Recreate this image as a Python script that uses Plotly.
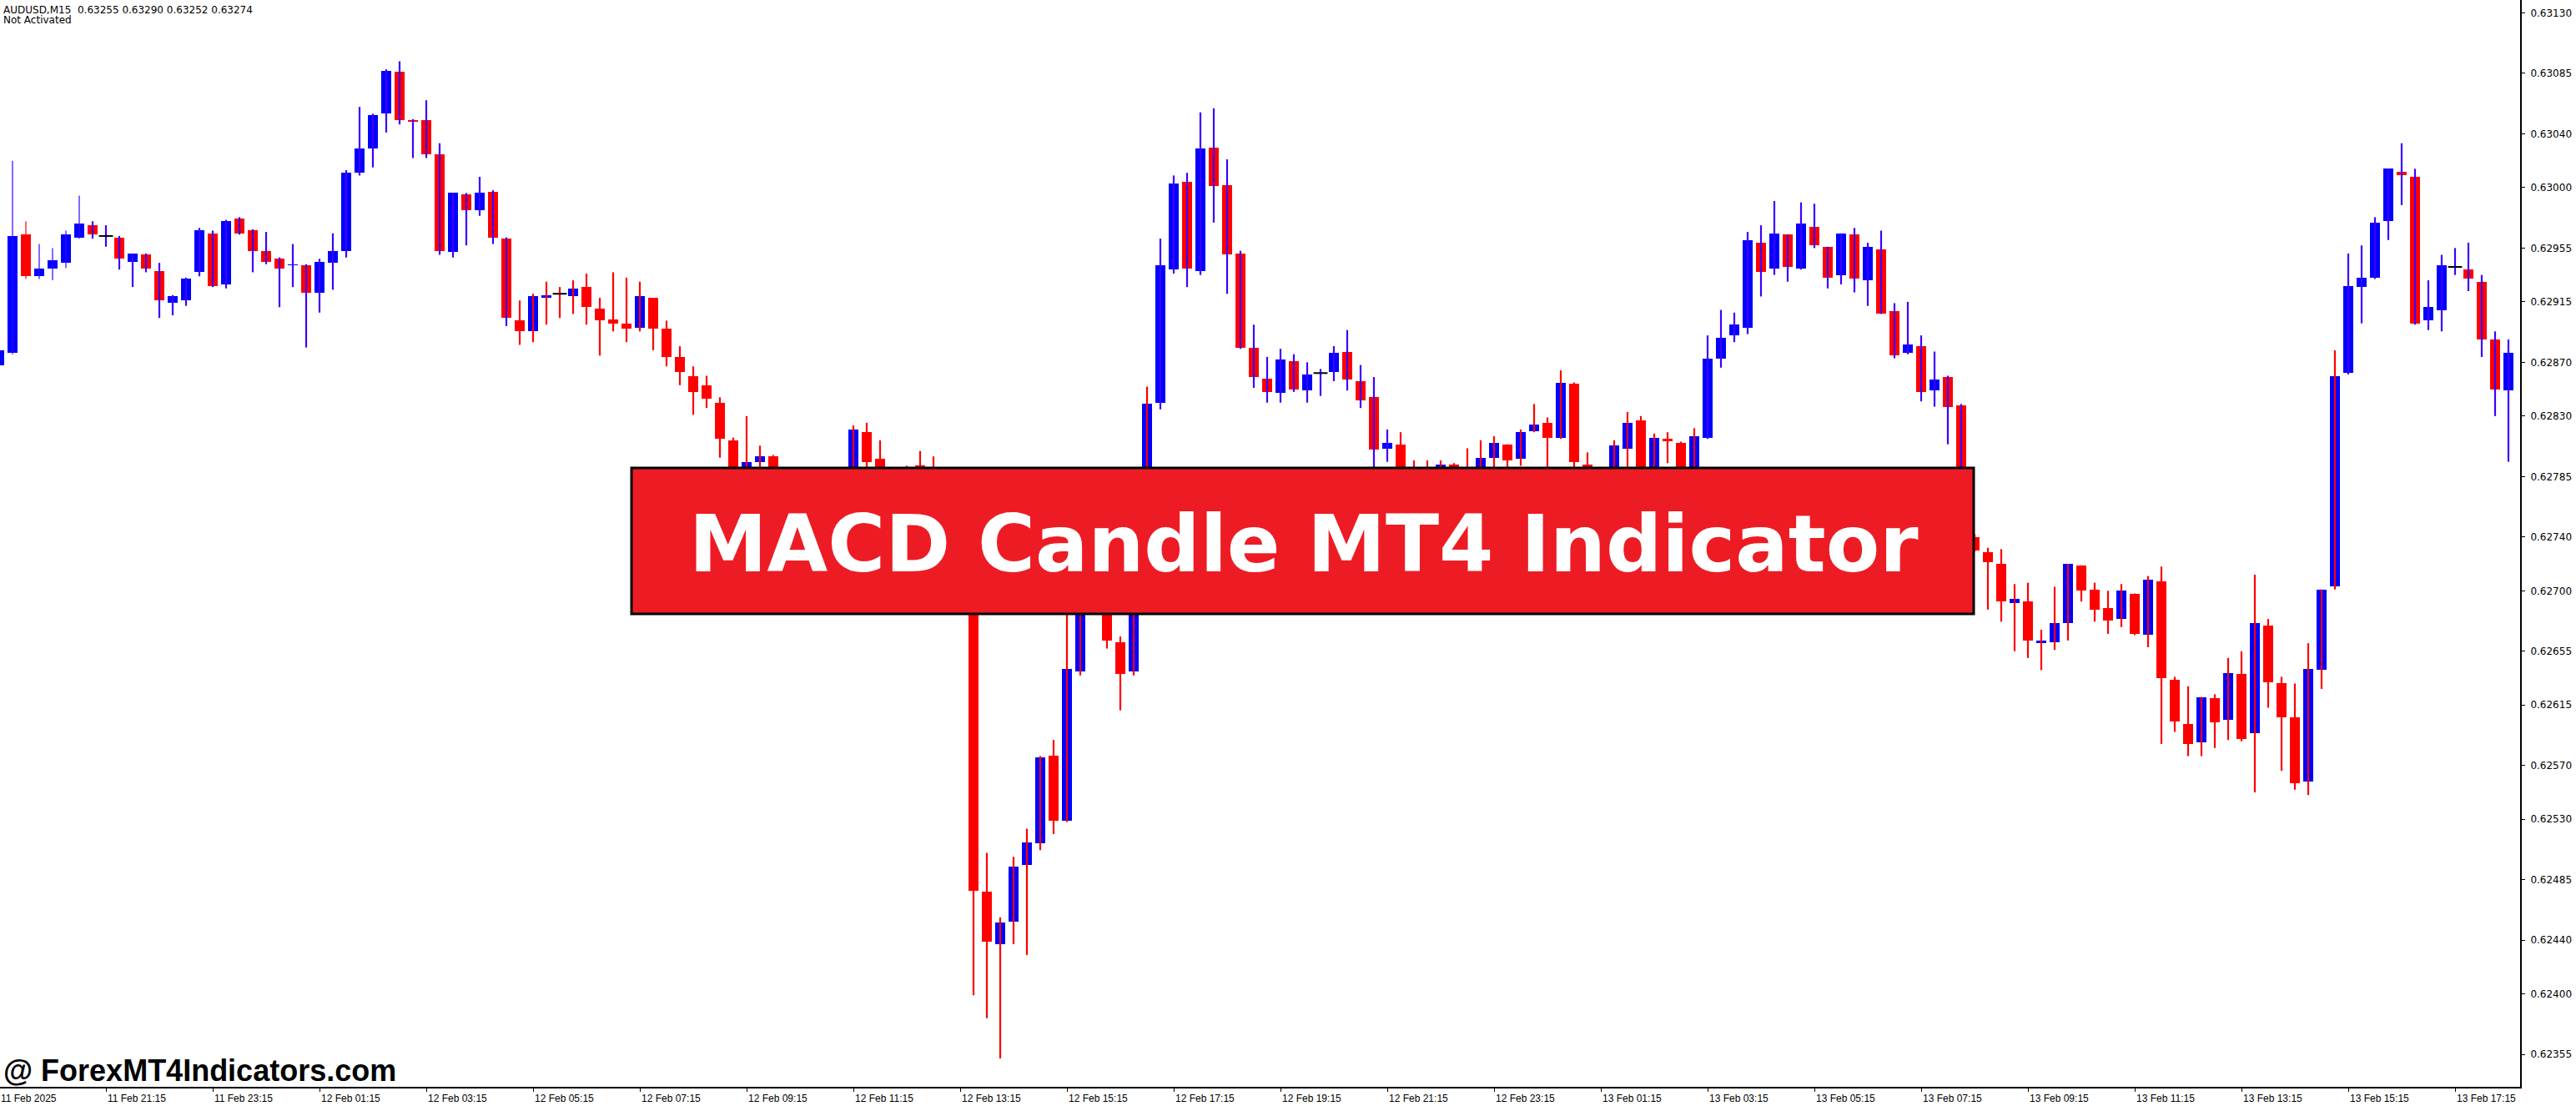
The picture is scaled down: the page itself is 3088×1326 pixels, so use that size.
import plotly.graph_objects as go

# ---------------- data (AUDUSD M15) ----------------
x_tick_labels = ["11 Feb 2025", "11 Feb 21:15", "11 Feb 23:15", "12 Feb 01:15", "12 Feb 03:15",
                 "12 Feb 05:15", "12 Feb 07:15", "12 Feb 09:15", "12 Feb 11:15", "12 Feb 13:15",
                 "12 Feb 15:15", "12 Feb 17:15", "12 Feb 19:15", "12 Feb 21:15", "12 Feb 23:15",
                 "13 Feb 01:15", "13 Feb 03:15", "13 Feb 05:15", "13 Feb 07:15", "13 Feb 09:15",
                 "13 Feb 11:15", "13 Feb 13:15", "13 Feb 15:15", "13 Feb 17:15"]
x_tick_index = list(range(0, 185, 8))

y_tick_labels = ["0.63130", "0.63085", "0.63040", "0.63000", "0.62955", "0.62915", "0.62870",
                 "0.62830", "0.62785", "0.62740", "0.62700", "0.62655", "0.62615", "0.62570",
                 "0.62530", "0.62485", "0.62440", "0.62400", "0.62355"]

opens = [0.62868, 0.62877, 0.62965, 0.62934, 0.62940, 0.62944, 0.62963, 0.62972, 0.62964, 0.62963,
         0.62945, 0.62950, 0.62938, 0.62914, 0.62916, 0.62937, 0.62966, 0.62928, 0.62977, 0.62968,
         0.62953, 0.62947, 0.62942, 0.62942, 0.62922, 0.62944, 0.62953, 0.63011, 0.63029, 0.63055,
         0.63086, 0.63050, 0.63050, 0.63025, 0.62952, 0.62995, 0.62983, 0.62997, 0.62962, 0.62901,
         0.62893, 0.62918, 0.62921, 0.62919, 0.62926, 0.62910, 0.62902, 0.62899, 0.62896, 0.62918,
         0.62895, 0.62874, 0.62860, 0.62853, 0.62840, 0.62812, 0.62780, 0.62796, 0.62800, 0.62767,
         0.62742, 0.62718, 0.62736, 0.62767, 0.62786, 0.62818, 0.62798, 0.62773, 0.62767, 0.62793,
         0.62773, 0.62755, 0.62742, 0.62736, 0.62476, 0.62437, 0.62454, 0.62496, 0.62512, 0.62577,
         0.62529, 0.62640, 0.62702, 0.62711, 0.62662, 0.62640, 0.62693, 0.62840, 0.62939, 0.63004,
         0.62938, 0.63030, 0.63002, 0.62951, 0.62881, 0.62858, 0.62847, 0.62871, 0.62849, 0.62862,
         0.62863, 0.62878, 0.62856, 0.62844, 0.62806, 0.62809, 0.62780, 0.62773, 0.62786, 0.62794,
         0.62783, 0.62780, 0.62799, 0.62809, 0.62798, 0.62819, 0.62825, 0.62814, 0.62854, 0.62794,
         0.62789, 0.62783, 0.62806, 0.62827, 0.62773, 0.62813, 0.62810, 0.62783, 0.62814, 0.62873,
         0.62890, 0.62896, 0.62959, 0.62940, 0.62965, 0.62940, 0.62971, 0.62956, 0.62935, 0.62965,
         0.62931, 0.62954, 0.62908, 0.62877, 0.62882, 0.62849, 0.62859, 0.62838, 0.62740, 0.62729,
         0.62720, 0.62691, 0.62692, 0.62661, 0.62662, 0.62676, 0.62719, 0.62701, 0.62687, 0.62679,
         0.62698, 0.62667, 0.62707, 0.62634, 0.62601, 0.62587, 0.62620, 0.62604, 0.62638, 0.62594,
         0.62674, 0.62631, 0.62606, 0.62558, 0.62641, 0.62703, 0.62862, 0.62926, 0.62933, 0.62975,
         0.63012, 0.63008, 0.62901, 0.62909, 0.62941, 0.62939, 0.62930, 0.62887, 0.62849]

highs = [0.62880, 0.63020, 0.62975, 0.62958, 0.62955, 0.62968, 0.62994, 0.62975, 0.62972, 0.62964,
         0.62951, 0.62951, 0.62944, 0.62920, 0.62933, 0.62970, 0.62968, 0.62976, 0.62978, 0.62969,
         0.62967, 0.62948, 0.62958, 0.62943, 0.62947, 0.62966, 0.63013, 0.63060, 0.63055, 0.63088,
         0.63094, 0.63051, 0.63065, 0.63033, 0.62996, 0.62996, 0.63008, 0.62998, 0.62963, 0.62916,
         0.62921, 0.62930, 0.62926, 0.62931, 0.62936, 0.62918, 0.62937, 0.62933, 0.62930, 0.62918,
         0.62901, 0.62882, 0.62867, 0.62860, 0.62844, 0.62814, 0.62830, 0.62808, 0.62801, 0.62773,
         0.62749, 0.62742, 0.62773, 0.62789, 0.62823, 0.62825, 0.62812, 0.62789, 0.62793, 0.62804,
         0.62800, 0.62767, 0.62755, 0.62742, 0.62505, 0.62457, 0.62502, 0.62523, 0.62577, 0.62589,
         0.62687, 0.62711, 0.62736, 0.62718, 0.62666, 0.62699, 0.62852, 0.62962, 0.63009, 0.63011,
         0.63056, 0.63059, 0.63021, 0.62953, 0.62898, 0.62874, 0.62880, 0.62876, 0.62870, 0.62865,
         0.62882, 0.62894, 0.62868, 0.62859, 0.62820, 0.62818, 0.62797, 0.62797, 0.62797, 0.62795,
         0.62806, 0.62812, 0.62815, 0.62809, 0.62820, 0.62839, 0.62829, 0.62864, 0.62855, 0.62803,
         0.62791, 0.62812, 0.62833, 0.62830, 0.62817, 0.62818, 0.62811, 0.62821, 0.62890, 0.62909,
         0.62907, 0.62967, 0.62972, 0.62990, 0.62965, 0.62989, 0.62988, 0.62956, 0.62966, 0.62970,
         0.62959, 0.62968, 0.62914, 0.62915, 0.62890, 0.62878, 0.62860, 0.62839, 0.62742, 0.62732,
         0.62731, 0.62705, 0.62706, 0.62671, 0.62703, 0.62720, 0.62719, 0.62706, 0.62700, 0.62705,
         0.62698, 0.62711, 0.62718, 0.62636, 0.62629, 0.62621, 0.62623, 0.62650, 0.62655, 0.62712,
         0.62679, 0.62636, 0.62631, 0.62661, 0.62701, 0.62879, 0.62951, 0.62957, 0.62978, 0.63014,
         0.63033, 0.63014, 0.62931, 0.62950, 0.62955, 0.62959, 0.62935, 0.62893, 0.62887]

lows = [0.62867, 0.62876, 0.62932, 0.62932, 0.62931, 0.62940, 0.62962, 0.62962, 0.62956, 0.62939,
        0.62926, 0.62937, 0.62903, 0.62905, 0.62912, 0.62934, 0.62926, 0.62925, 0.62965, 0.62937,
        0.62943, 0.62911, 0.62926, 0.62881, 0.62907, 0.62924, 0.62948, 0.63009, 0.63015, 0.63041,
        0.63047, 0.63022, 0.63022, 0.62950, 0.62948, 0.62957, 0.62979, 0.62958, 0.62897, 0.62883,
        0.62885, 0.62898, 0.62903, 0.62906, 0.62898, 0.62875, 0.62893, 0.62885, 0.62893, 0.62879,
        0.62867, 0.62853, 0.62831, 0.62836, 0.62799, 0.62773, 0.62773, 0.62783, 0.62755, 0.62736,
        0.62705, 0.62711, 0.62730, 0.62761, 0.62780, 0.62783, 0.62767, 0.62755, 0.62758, 0.62764,
        0.62749, 0.62736, 0.62724, 0.62399, 0.62382, 0.62352, 0.62437, 0.62429, 0.62507, 0.62519,
        0.62528, 0.62637, 0.62690, 0.62657, 0.62611, 0.62637, 0.62687, 0.62835, 0.62936, 0.62926,
        0.62935, 0.62974, 0.62921, 0.62880, 0.62851, 0.62840, 0.62840, 0.62848, 0.62840, 0.62845,
        0.62856, 0.62849, 0.62836, 0.62791, 0.62796, 0.62773, 0.62767, 0.62764, 0.62777, 0.62773,
        0.62770, 0.62773, 0.62789, 0.62790, 0.62793, 0.62818, 0.62789, 0.62813, 0.62788, 0.62780,
        0.62773, 0.62780, 0.62789, 0.62767, 0.62767, 0.62795, 0.62777, 0.62780, 0.62813, 0.62866,
        0.62885, 0.62891, 0.62919, 0.62935, 0.62930, 0.62939, 0.62955, 0.62925, 0.62928, 0.62922,
        0.62912, 0.62906, 0.62873, 0.62876, 0.62841, 0.62837, 0.62809, 0.62736, 0.62729, 0.62686,
        0.62677, 0.62655, 0.62650, 0.62641, 0.62656, 0.62663, 0.62692, 0.62677, 0.62668, 0.62673,
        0.62667, 0.62658, 0.62586, 0.62595, 0.62577, 0.62577, 0.62583, 0.62589, 0.62588, 0.62550,
        0.62613, 0.62566, 0.62552, 0.62548, 0.62627, 0.62701, 0.62861, 0.62899, 0.62932, 0.62961,
        0.62987, 0.62898, 0.62894, 0.62893, 0.62935, 0.62923, 0.62874, 0.62830, 0.62796]

closes = [0.62879, 0.62964, 0.62934, 0.62940, 0.62946, 0.62965, 0.62973, 0.62965, 0.62964, 0.62947,
          0.62951, 0.62940, 0.62916, 0.62919, 0.62932, 0.62968, 0.62927, 0.62975, 0.62966, 0.62953,
          0.62945, 0.62940, 0.62943, 0.62922, 0.62945, 0.62953, 0.63011, 0.63029, 0.63054, 0.63087,
          0.63050, 0.63049, 0.63025, 0.62953, 0.62996, 0.62983, 0.62996, 0.62963, 0.62903, 0.62893,
          0.62919, 0.62920, 0.62921, 0.62925, 0.62911, 0.62901, 0.62899, 0.62895, 0.62919, 0.62895,
          0.62874, 0.62863, 0.62848, 0.62843, 0.62813, 0.62783, 0.62796, 0.62800, 0.62767, 0.62742,
          0.62718, 0.62736, 0.62767, 0.62786, 0.62820, 0.62796, 0.62773, 0.62767, 0.62777, 0.62773,
          0.62755, 0.62742, 0.62736, 0.62477, 0.62439, 0.62453, 0.62495, 0.62513, 0.62576, 0.62529,
          0.62642, 0.62705, 0.62711, 0.62663, 0.62638, 0.62693, 0.62839, 0.62942, 0.63003, 0.62940,
          0.63029, 0.63001, 0.62950, 0.62881, 0.62859, 0.62848, 0.62872, 0.62850, 0.62861, 0.62862,
          0.62877, 0.62857, 0.62842, 0.62805, 0.62810, 0.62783, 0.62773, 0.62777, 0.62794, 0.62783,
          0.62780, 0.62799, 0.62810, 0.62797, 0.62818, 0.62824, 0.62814, 0.62855, 0.62796, 0.62789,
          0.62783, 0.62808, 0.62825, 0.62773, 0.62814, 0.62811, 0.62783, 0.62815, 0.62873, 0.62888,
          0.62898, 0.62961, 0.62937, 0.62966, 0.62941, 0.62973, 0.62957, 0.62933, 0.62966, 0.62932,
          0.62956, 0.62906, 0.62875, 0.62883, 0.62848, 0.62857, 0.62837, 0.62740, 0.62730, 0.62721,
          0.62692, 0.62694, 0.62663, 0.62663, 0.62676, 0.62720, 0.62700, 0.62686, 0.62678, 0.62700,
          0.62668, 0.62708, 0.62635, 0.62603, 0.62586, 0.62621, 0.62602, 0.62639, 0.62590, 0.62676,
          0.62632, 0.62606, 0.62557, 0.62642, 0.62701, 0.62860, 0.62927, 0.62933, 0.62974, 0.63014,
          0.63009, 0.62899, 0.62911, 0.62942, 0.62941, 0.62932, 0.62887, 0.62850, 0.62877]

# spans of bars whose high-low line is drawn in the indicator's "up" colour (blue); the rest are red
blue_wick_runs = [(0, 1), (3, 38), (87, 104), (128, 147), (176, 188)]
first_indicator_bar = 7          # bars before this one keep the thin original wick

header_line1 = "AUDUSD,M15\u00a0\u00a00.63255 0.63290 0.63252 0.63274"
header_line2 = "Not Activated"
banner_text = "MACD Candle MT4 Indicator"
watermark_text = "@ ForexMT4Indicators.com"

# ---------------- styles ----------------
BLUE = "#0000FF"
RED = "#FF0000"
WICK_BLUE = "#3C00FF"
WICK_RED = "#FF0000"
BANNER_RED = "#ED1C24"

n = len(opens)
idx = list(range(n))
wick_up = [False] * n
for a, b in blue_wick_runs:
    for i in range(a, b + 1):
        wick_up[i] = True

body_colors = [BLUE if c > o else (RED if c < o else "black") for o, c in zip(opens, closes)]

fig = go.Figure()

# candle bodies
fig.add_trace(go.Bar(
    x=idx,
    y=[abs(c - o) for o, c in zip(opens, closes)],
    base=[min(o, c) for o, c in zip(opens, closes)],
    width=0.69,
    marker=dict(color=body_colors, line=dict(width=0)),
    hoverinfo="skip",
))


def wick_trace(sel, color, width):
    xs, ys = [], []
    for i in sel:
        xs += [i, i, None]
        ys += [lows[i], highs[i], None]
    return go.Scatter(x=xs, y=ys, mode="lines", line=dict(color=color, width=width),
                      hoverinfo="skip", connectgaps=False)


for up, col in ((True, WICK_BLUE), (False, WICK_RED)):
    thin = [i for i in idx if wick_up[i] == up and i < first_indicator_bar]
    thick = [i for i in idx if wick_up[i] == up and i >= first_indicator_bar]
    if thin:
        fig.add_trace(wick_trace(thin, col, 1.2))
    if thick:
        fig.add_trace(wick_trace(thick, col, 2.2))

# doji (open == close) drawn as a short black dash
doji = [i for i in idx if opens[i] == closes[i]]
fig.add_trace(go.Scatter(
    x=doji, y=[opens[i] for i in doji], mode="markers",
    marker=dict(symbol="line-ew", size=12, line=dict(color="black", width=2)),
    hoverinfo="skip",
))

# ---------------- layout ----------------
W, H = 3088, 1326
ML, MR, MT, MB = 0, 67, 0, 23
PW, PH = W - ML - MR, H - MT - MB
X_RANGE = [0.0625, 188.875]

fig.update_layout(
    width=W, height=H,
    margin=dict(l=ML, r=MR, t=MT, b=MB, pad=0),
    paper_bgcolor="white", plot_bgcolor="white",
    showlegend=False, barmode="overlay", bargap=0,
    hovermode=False,
)

fig.update_xaxes(
    range=X_RANGE, showgrid=False, zeroline=False,
    showline=True, linecolor="black", linewidth=2,
    ticks="outside", ticklen=4, tickwidth=1, tickcolor="black",
    tickvals=x_tick_index, showticklabels=False, automargin=False, fixedrange=True,
)
fig.update_yaxes(
    side="right", range=[0.623309, 0.631396], showgrid=False, zeroline=False,
    showline=True, linecolor="black", linewidth=2,
    ticks="outside", ticklen=4, tickwidth=1, tickcolor="black",
    tickvals=[float(t) for t in y_tick_labels], ticktext=y_tick_labels,
    tickfont=dict(family="DejaVu Sans", size=12, color="black"),
    ticklabelstandoff=4, automargin=False, fixedrange=True,
)

annotations = []
# time labels, left-aligned at their tick like MT4 (paper position from the axis range)
for ti, lab in zip(x_tick_index, x_tick_labels):
    annotations.append(dict(
        x=(ti - X_RANGE[0]) / (X_RANGE[1] - X_RANGE[0]), y=0, xref="paper", yref="paper",
        text=lab, showarrow=False,
        xanchor="left", yanchor="top", yshift=-5, xshift=0,
        font=dict(family="Liberation Sans", size=12, color="black"),
    ))

# header texts
annotations.append(dict(x=0, y=1, xref="paper", yref="paper", text=header_line1, showarrow=False,
                        xanchor="left", yanchor="top", xshift=2, yshift=-3,
                        font=dict(family="DejaVu Sans", size=12, color="black")))
annotations.append(dict(x=0, y=1, xref="paper", yref="paper", text=header_line2, showarrow=False,
                        xanchor="left", yanchor="top", xshift=2, yshift=-15,
                        font=dict(family="DejaVu Sans", size=12, color="black")))

# watermark
annotations.append(dict(x=0, y=0, xref="paper", yref="paper", text="<b>" + watermark_text + "</b>",
                        showarrow=False, xanchor="left", yanchor="bottom", xshift=2, yshift=-3,
                        font=dict(family="Liberation Sans", size=36, color="black")))

# banner
bx0, bx1, by0, by1 = 757, 2366, 561, 736
annotations.append(dict(x=(1563 - ML) / PW, y=1 - (652 - MT) / PH, xref="paper", yref="paper",
                        text="<b>" + banner_text + "</b>", showarrow=False,
                        xanchor="center", yanchor="middle",
                        font=dict(family="DejaVu Sans", size=94, color="white")))

fig.update_layout(
    annotations=annotations,
    shapes=[dict(type="rect", xref="paper", yref="paper",
                 x0=(bx0 - ML) / PW, x1=(bx1 - ML) / PW,
                 y0=1 - (by1 - MT) / PH, y1=1 - (by0 - MT) / PH,
                 fillcolor=BANNER_RED, line=dict(color="black", width=3), layer="above")],
)

fig.write_html("out.html",
               config={"displayModeBar": False, "staticPlot": True},
               post_script="document.body.style.margin='0';document.body.style.overflow='hidden';")
